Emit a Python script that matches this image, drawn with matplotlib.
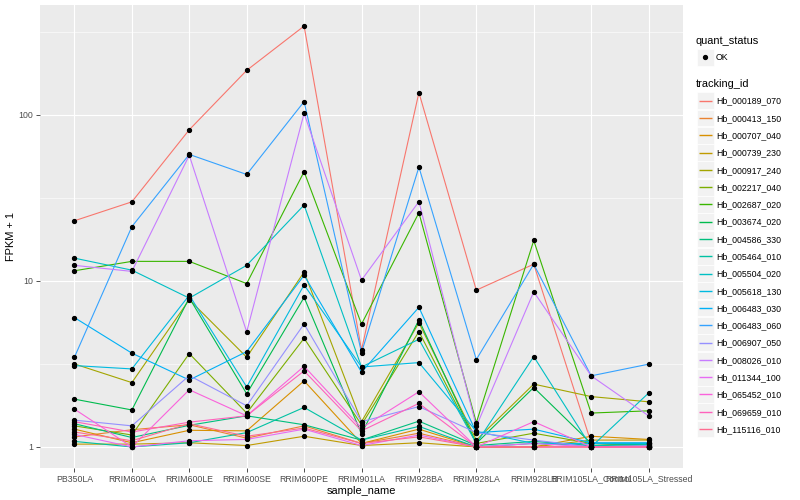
import matplotlib
matplotlib.use("Agg")
import matplotlib.pyplot as plt
import numpy as np
from matplotlib.patches import Rectangle
from matplotlib.ticker import FixedLocator, NullFormatter

plt.rcParams['font.family'] = ['Liberation Sans', 'DejaVu Sans']

# samples on the x axis
samples = ["PB350LA", "RRIM600LA", "RRIM600LE", "RRIM600SE", "RRIM600PE",
           "RRIM901LA", "RRIM928BA", "RRIM928LA", "RRIM928LB",
           "RRIM105LA_Control", "RRIM105LA_Stressed"]

tracking_ids = ["Hb_000189_070", "Hb_000413_150", "Hb_000707_040", "Hb_000739_230",
                "Hb_000917_240", "Hb_002217_040", "Hb_002687_020", "Hb_003674_020",
                "Hb_004586_330", "Hb_005464_010", "Hb_005504_020", "Hb_005618_130",
                "Hb_006483_030", "Hb_006483_060", "Hb_006907_050", "Hb_008026_010",
                "Hb_011344_100", "Hb_065452_010", "Hb_069659_010", "Hb_115116_010"]

# ggplot hue palette, 20 levels
colors = ["#F8766D", "#EA8331", "#D89000", "#C09B00", "#A3A500", "#7CAE00",
          "#39B600", "#00BB4E", "#00BF7D", "#00C1A3", "#00BFC4", "#00BAE0",
          "#00B0F6", "#35A2FF", "#9590FF", "#C77CFF", "#E76BF3", "#FA62DB",
          "#FF62BC", "#FF6C91"]

# FPKM + 1, one row per tracking id
fpkm = [
    [23.0, 29.9, 81.2, 185, 342, 3.84, 136, 8.79, 12.6, 1.06, 1.00],
    [1.15, 1.27, 1.36, 1.13, 1.34, 1.05, 1.21, 1.00, 1.00, 1.00, 1.00],
    [1.28, 1.06, 1.26, 1.25, 2.50, 1.05, 1.28, 1.00, 1.00, 1.16, 1.11],
    [1.04, 1.04, 1.06, 1.02, 1.16, 1.02, 1.06, 1.00, 1.00, 1.10, 1.10],
    [3.16, 2.44, 7.70, 3.47, 11.3, 1.42, 5.60, 1.10, 2.39, 2.01, 1.87],
    [1.34, 1.18, 3.65, 1.60, 4.51, 1.36, 4.95, 1.05, 1.21, 1.05, 1.02],
    [11.5, 13.1, 13.1, 9.63, 45.4, 5.49, 25.7, 1.40, 17.5, 1.60, 1.65],
    [1.94, 1.67, 7.90, 2.09, 7.95, 1.20, 5.82, 1.05, 2.28, 1.05, 1.05],
    [1.38, 1.14, 1.35, 1.54, 1.36, 1.10, 1.43, 1.02, 1.08, 1.02, 1.04],
    [1.08, 1.00, 1.06, 1.22, 1.73, 1.10, 1.33, 1.00, 1.05, 1.02, 1.03],
    [13.7, 11.6, 7.87, 12.4, 28.6, 3.03, 4.45, 1.05, 3.50, 1.00, 2.11],
    [3.09, 2.95, 8.20, 2.30, 9.45, 3.03, 3.22, 1.24, 1.05, 1.05, 1.05],
    [6.01, 3.67, 2.53, 3.75, 10.8, 2.82, 6.93, 1.22, 1.28, 1.06, 1.06],
    [3.47, 21.2, 57.7, 43.7, 120, 3.70, 48.4, 3.36, 12.6, 2.68, 3.15],
    [1.45, 1.34, 2.69, 1.77, 5.50, 1.42, 1.75, 1.22, 1.10, 1.00, 1.02],
    [12.4, 11.4, 57.0, 4.93, 102, 10.1, 30.0, 1.33, 8.59, 2.68, 1.54],
    [1.19, 1.00, 1.09, 1.11, 1.28, 1.02, 1.18, 1.00, 1.05, 1.00, 1.00],
    [1.69, 1.00, 2.21, 1.54, 3.06, 1.30, 2.15, 1.00, 1.42, 1.00, 1.00],
    [1.42, 1.23, 1.41, 1.54, 2.87, 1.25, 1.83, 1.00, 1.00, 1.00, 1.00],
    [1.23, 1.09, 1.38, 1.16, 1.30, 1.05, 1.15, 1.00, 1.00, 1.00, 1.00],
]

W, H = 800, 500
fig = plt.figure(figsize=(8, 5), dpi=100)
px = 100 / 72.0  # ggplot sizes were in px at 72 dpi

# panel in pixels: x 40..683, y 5..468
ax = fig.add_axes([40 / W, 1 - 468 / H, (683 - 40) / W, (468 - 5) / H])
ax.set_facecolor("#EBEBEB")
for s in ax.spines.values():
    s.set_visible(False)

x = np.arange(len(samples))
for i, row in enumerate(fpkm):
    ax.plot(x, row, color=colors[i], lw=0.8, zorder=2 + i * 0.01)
for i, row in enumerate(fpkm):
    ax.plot(x, row, ls="none", marker="o", ms=2.8, color="black", zorder=4)

ax.set_yscale("log")
vals = np.log10(np.array(fpkm))
lo, hi = vals.min(), vals.max()
pad = (hi - lo) * 0.05
ax.set_ylim(10 ** (lo - pad), 10 ** (hi + pad))
ax.set_xlim(-0.6, len(samples) - 0.4)

ax.yaxis.set_major_locator(FixedLocator([1, 10, 100]))
ax.yaxis.set_minor_locator(FixedLocator([10 ** 0.5, 10 ** 1.5, 10 ** 2.5]))
ax.yaxis.set_minor_formatter(NullFormatter())
ax.set_yticklabels(["1", "10", "100"])
ax.set_xticks(x)
ax.set_xticklabels(samples)

ax.grid(True, which="major", color="white", lw=0.8)
ax.grid(True, which="minor", axis="y", color="white", lw=0.4)
ax.set_axisbelow(True)
ax.tick_params(which="major", length=2.75 * px * 0.72, width=0.6, color="#333333",
               labelsize=8.8 / px, labelcolor="#4D4D4D", pad=2)
ax.tick_params(which="minor", length=0)

ax.set_xlabel("sample_name", fontsize=11 / px, labelpad=2)
ax.set_ylabel("FPKM + 1", fontsize=11 / px, labelpad=2)

# legends drawn in a pixel-coordinate axes on the right
lax = fig.add_axes([690 / W, 0, 110 / W, 1])
lax.set_xlim(690, 800)
lax.set_ylim(500, 0)
lax.axis("off")

lax.text(696, 41, "quant_status", fontsize=11 / px, va="center", ha="left")
lax.add_patch(Rectangle((697, 49), 16.5, 16.5, facecolor="#F2F2F2", edgecolor="white",
                        lw=0.5, zorder=1))
lax.plot([705.2], [57.2], marker="o", ms=2.8, color="black", zorder=3)
lax.text(716, 57.5, "OK", fontsize=8.8 / px, va="center", ha="left")

lax.text(696, 84, "tracking_id", fontsize=11 / px, va="center", ha="left")
for i, tid in enumerate(tracking_ids):
    cy = 100.7 + 17.28 * i
    lax.add_patch(Rectangle((697, cy - 8.4), 16.5, 16.8, facecolor="#F2F2F2",
                            edgecolor="white", lw=0.5, zorder=1))
    lax.plot([698.5, 711.5], [cy, cy], color=colors[i], lw=1.0, zorder=3,
             solid_capstyle="butt")
    lax.text(716, cy + 0.5, tid, fontsize=8.8 / px, va="center", ha="left")

fig.savefig("out.png", dpi=100)
